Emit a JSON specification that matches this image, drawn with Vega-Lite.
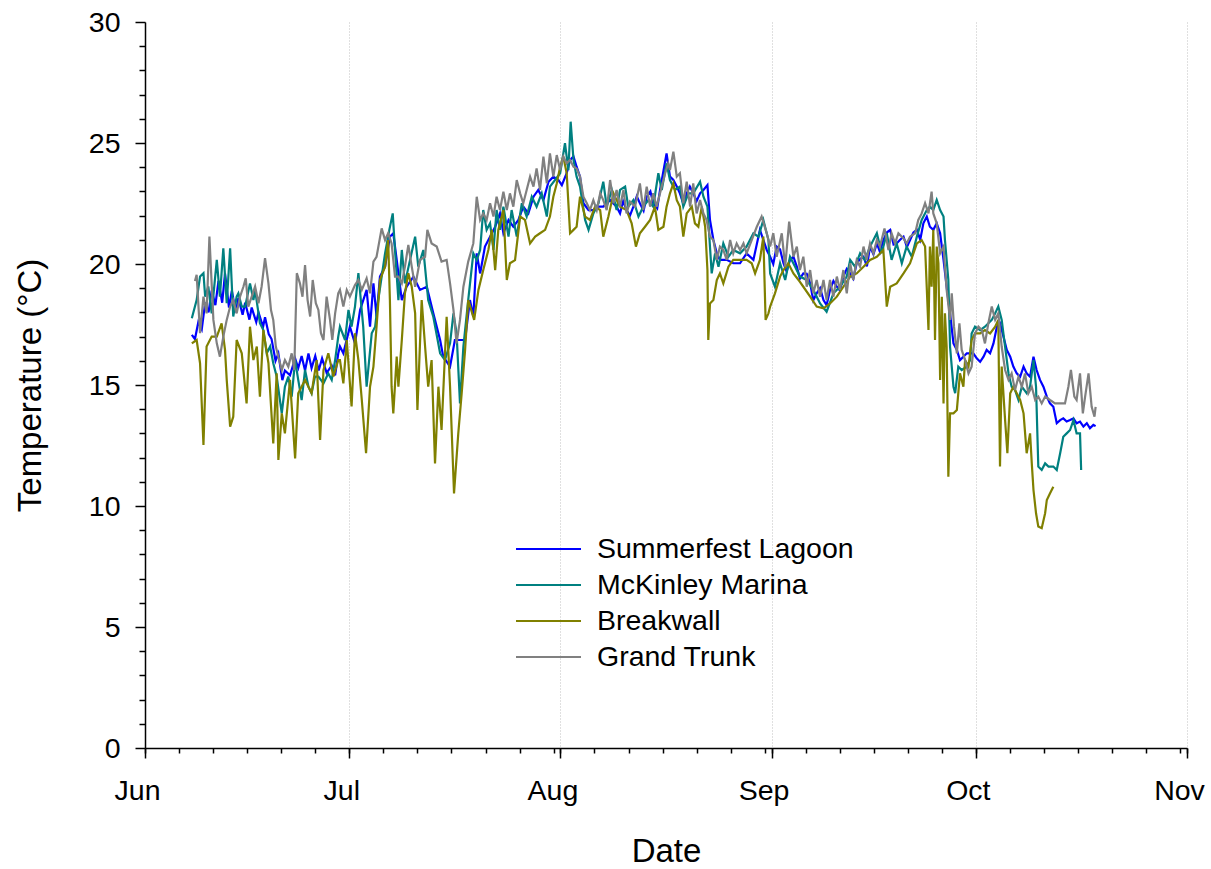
{
"$schema": "https://vega.github.io/schema/vega-lite/v6.json",
"width": 1042, "height": 726,
"autosize": {"type": "none"},
"padding": {"left": 145, "top": 22, "right": 24, "bottom": 121},
"background": "white",
"config": {"view": {"stroke": null}, "font": "Liberation Sans",
 "axis": {"labelColor": "black", "titleColor": "black", "tickColor": "black", "domainColor": "black", "labelFont": "Liberation Sans", "titleFont": "Liberation Sans", "titleFontWeight": "normal"},
 "legend": {"labelFont": "Liberation Sans"}},
"layer": [
{"data": {"format": {"parse": {"d": "date:'%j %H'"}}, "values": [
{"d":"158 21","t":17.07},{"d":"159 8","t":16.9},{"d":"159 20","t":17.6},{"d":"160 8","t":17.3},{"d":"160 20","t":18.4},{"d":"161 8","t":18.0},{"d":"161 19","t":18.9},{"d":"162 8","t":18.3},{"d":"162 19","t":19.3},{"d":"163 8","t":18.4},{"d":"163 18","t":19.6},{"d":"164 8","t":18.2},{"d":"164 18","t":18.9},{"d":"165 8","t":18.0},{"d":"165 17","t":18.6},{"d":"166 8","t":17.9},{"d":"166 17","t":18.4},{"d":"167 8","t":17.7},{"d":"167 16","t":18.2},{"d":"168 8","t":17.6},{"d":"168 16","t":18.0},{"d":"169 8","t":17.4},{"d":"169 15","t":17.8},{"d":"170 4","t":17.1},{"d":"170 14","t":16.9},{"d":"171 4","t":16.0},{"d":"171 14","t":16.3},{"d":"172 4","t":15.2},{"d":"172 13","t":15.6},{"d":"173 7","t":15.4},{"d":"174 1","t":16.1},{"d":"174 12","t":15.7},{"d":"175 0","t":16.2},{"d":"175 12","t":15.6},{"d":"176 0","t":16.3},{"d":"176 11","t":15.7},{"d":"177 0","t":16.2},{"d":"177 12","t":15.6},{"d":"178 0","t":16.1},{"d":"178 16","t":15.5},{"d":"179 10","t":15.8},{"d":"179 22","t":15.4},{"d":"180 9","t":16.3},
{"d":"180 15","t":16.59},{"d":"181 3","t":16.31},{"d":"182 2","t":17.41},{"d":"182 20","t":16.72},{"d":"183 14","t":18.1},{"d":"184 13","t":18.93},{"d":"185 1","t":17.41},{"d":"185 13","t":19.2},{"d":"186 0","t":17.82},{"d":"186 12","t":19.48},{"d":"187 6","t":19.89},{"d":"187 23","t":21.13},{"d":"188 11","t":21.27},{"d":"188 23","t":20.17},{"d":"189 17","t":18.51},{"d":"190 10","t":19.06},{"d":"191 10","t":19.48},{"d":"192 9","t":18.93},{"d":"193 9","t":19.06},{"d":"194 8","t":17.96},{"d":"195 8","t":16.86},{"d":"195 19","t":16.17},{"d":"196 19","t":15.76},{"d":"197 12","t":16.86},{"d":"198 6","t":16.86},{"d":"199 0","t":16.86},{"d":"199 17","t":18.51},
{"d":"200 5","t":17.82},{"d":"200 17","t":20.44},{"d":"201 5","t":19.61},{"d":"201 22","t":20.72},{"d":"202 16","t":21.13},{"d":"203 10","t":21.54},{"d":"204 3","t":22.09},{"d":"204 15","t":21.27},{"d":"205 9","t":21.82},{"d":"206 2","t":21.54},{"d":"206 20","t":21.82},{"d":"207 13","t":22.37},{"d":"208 7","t":22.09},{"d":"209 1","t":22.78},{"d":"209 18","t":23.06},{"d":"210 12","t":22.64},{"d":"211 6","t":23.4},{"d":"211 23","t":23.61},{"d":"212 17","t":23.47},{"d":"213 5","t":23.26},{"d":"213 22","t":23.75},{"d":"214 10","t":24.3},{"d":"214 22","t":24.44},{"d":"215 9","t":24.02},{"d":"215 21","t":23.61},{"d":"216 9","t":22.51},{"d":"217 3","t":22.23},{"d":"217 20","t":22.23},{"d":"218 14","t":22.37},{"d":"219 7","t":22.37},{"d":"220 7","t":22.64},{"d":"221 6","t":22.37},
{"d":"221 18","t":22.09},{"d":"222 5","t":22.6},{"d":"222 17","t":22.23},{"d":"223 5","t":22.0},{"d":"223 17","t":22.37},{"d":"224 5","t":22.8},{"d":"224 16","t":22.51},{"d":"225 5","t":22.2},{"d":"225 16","t":22.78},{"d":"226 5","t":23.0},{"d":"226 15","t":22.51},{"d":"227 5","t":22.3},{"d":"227 15","t":23.06},{"d":"228 14","t":24.57},{"d":"229 2","t":23.61},{"d":"229 14","t":23.47},{"d":"230 2","t":23.2},{"d":"230 13","t":22.92},{"d":"231 1","t":22.5},{"d":"231 13","t":22.92},{"d":"232 0","t":23.2},{"d":"232 12","t":22.92},{"d":"233 0","t":22.6},{"d":"233 12","t":22.92},{"d":"234 0","t":23.06},{"d":"234 14","t":23.26},{"d":"234 23","t":21.82},{"d":"235 11","t":20.99},{"d":"235 23","t":20.44},{"d":"236 10","t":20.17},{"d":"237 10","t":20.17},{"d":"238 9","t":20.03},{"d":"239 9","t":20.03},{"d":"240 8","t":20.44},{"d":"241 8","t":20.17},{"d":"242 7","t":21.41},{"d":"243 7","t":20.58},
{"d":"243 19","t":20.3},{"d":"244 6","t":20.0},{"d":"244 18","t":20.72},{"d":"245 6","t":20.6},{"d":"245 18","t":20.03},{"d":"246 5","t":19.7},{"d":"246 17","t":20.17},{"d":"247 5","t":20.3},{"d":"247 17","t":19.89},{"d":"248 4","t":19.4},{"d":"248 16","t":19.61},{"d":"249 4","t":19.6},{"d":"249 16","t":19.2},{"d":"250 3","t":18.5},{"d":"250 15","t":18.79},{"d":"251 3","t":19.0},{"d":"251 15","t":18.51},{"d":"252 2","t":18.3},{"d":"252 14","t":18.93},{"d":"253 2","t":19.3},{"d":"253 14","t":19.06},{"d":"254 1","t":18.9},{"d":"254 13","t":19.48},{"d":"255 1","t":19.8},{"d":"255 13","t":19.61},{"d":"256 0","t":19.4},{"d":"256 12","t":20.03},{"d":"257 0","t":20.2},{"d":"257 12","t":20.3},{"d":"258 0","t":19.9},{"d":"258 11","t":20.72},{"d":"258 23","t":20.4},{"d":"259 11","t":20.85},{"d":"259 22","t":20.5},{"d":"260 10","t":20.99},{"d":"260 22","t":21.3},{"d":"261 10","t":21.41},{"d":"261 22","t":20.8},{"d":"262 9","t":20.85},{"d":"262 21","t":21.0},{"d":"263 9","t":21.13},{"d":"263 21","t":20.7},{"d":"264 8","t":20.99},{"d":"264 20","t":21.3},{"d":"265 8","t":21.41},{"d":"265 20","t":21.0},{"d":"266 7","t":21.68},{"d":"266 19","t":21.96},
{"d":"267 6","t":21.54},{"d":"267 18","t":21.41},{"d":"268 6","t":21.68},{"d":"268 18","t":21.27},{"d":"269 6","t":20.17},{"d":"269 17","t":19.06},{"d":"270 5","t":17.96},{"d":"270 17","t":16.72},{"d":"271 5","t":16.45},{"d":"271 16","t":16.03},{"d":"272 4","t":16.17},{"d":"272 16","t":16.31},{"d":"273 4","t":16.31},{"d":"273 15","t":16.31},{"d":"274 3","t":16.1},{"d":"274 15","t":15.96},{"d":"275 3","t":16.17},{"d":"275 14","t":16.45},{"d":"276 2","t":16.31},{"d":"276 14","t":16.72},{"d":"277 2","t":17.41},{"d":"277 13","t":17.55},{"d":"278 1","t":17.0},{"d":"278 13","t":16.45},{"d":"279 1","t":16.17},{"d":"279 12","t":15.76},{"d":"280 0","t":15.48},{"d":"280 12","t":15.34},{"d":"281 0","t":15.76},{"d":"281 11","t":15.48},{"d":"281 23","t":15.34},{"d":"282 11","t":16.17},{"d":"282 22","t":15.62},{"d":"283 10","t":15.21},{"d":"283 22","t":14.93},{"d":"284 10","t":14.52},{"d":"284 21","t":14.24},{"d":"285 9","t":14.1},{"d":"285 21","t":13.42},{"d":"286 9","t":13.55},{"d":"286 20","t":13.62},{"d":"287 8","t":13.49},{"d":"287 20","t":13.55},{"d":"288 8","t":13.62},{"d":"288 19","t":13.42},{"d":"289 7","t":13.49},{"d":"289 19","t":13.28},{"d":"290 7","t":13.42},{"d":"290 18","t":13.21},{"d":"291 6","t":13.35},{"d":"291 14","t":13.3}
]},
 "mark": {"type": "line", "strokeWidth": 2.2},
 "encoding": {
  "x": {"field": "d", "type": "temporal", "scale": {"domain": [{"year": 1900, "month": "jun", "date": 1}, {"year": 1900, "month": "nov", "date": 1}]},
   "axis": {"orient": "bottom", "tickCount": {"interval": "month", "step": 1}, "format": "%b", "labelFontSize": 28.5, "labelPadding": 18, "labelOffset": -8, "labelFlush": false, "labelOverlap": false, "labelBound": false, "tickSize": 10, "tickWidth": 1.5, "domainWidth": 1.5, "grid": true, "gridDash": [1, 2], "gridColor": "#c0c0c0", "gridWidth": 1, "title": "Date", "titleFontSize": 33, "titlePadding": 31}},
  "y": {"field": "t", "type": "quantitative", "scale": {"domain": [0, 30]},
   "axis": {"orient": "left", "values": [0, 5, 10, 15, 20, 25, 30], "labelFontSize": 28.5, "labelPadding": 15, "tickSize": 10, "tickWidth": 1.5, "domainWidth": 1.5, "grid": false, "title": "Temperature (°C)", "titleFontSize": 33, "titlePadding": 41}},
  "color": {"datum": "Summerfest Lagoon", "type": "nominal",
   "scale": {"domain": ["Summerfest Lagoon", "McKinley Marina", "Breakwall", "Grand Trunk"], "range": ["#0000ff", "#008080", "#808000", "#808080"]},
   "legend": {"orient": "none", "legendX": 370, "legendY": 509, "title": null, "symbolType": "stroke", "symbolSize": 4225, "symbolStrokeWidth": 2, "labelFontSize": 28.5, "labelColor": "black", "labelOffset": 15, "clipHeight": 36, "rowPadding": 0, "padding": 0, "labelLimit": 0}}
 }},
{"data": {"format": {"parse": {"d": "date:'%j %H'"}}, "values": [
{"d":"158 21","t":17.76},{"d":"159 14","t":18.51},{"d":"160 2","t":19.48},{"d":"160 14","t":19.62},{"d":"160 20","t":18.65},{"d":"161 7","t":19.07},{"d":"161 19","t":17.96},{"d":"162 13","t":20.17},{"d":"163 0","t":18.65},{"d":"163 12","t":20.65},{"d":"164 0","t":18.38},{"d":"164 12","t":20.65},{"d":"164 23","t":17.83},{"d":"165 11","t":18.65},{"d":"165 17","t":18.79},{"d":"166 5","t":18.24},{"d":"166 17","t":18.24},{"d":"167 10","t":19.2},{"d":"167 22","t":18.51},{"d":"168 4","t":18.93},{"d":"168 21","t":17.55},{"d":"169 9","t":17.27},{"d":"169 21","t":16.31},{"d":"170 9","t":16.59},{"d":"170 20","t":15.9},{"d":"171 8","t":15.35},{"d":"172 2","t":13.83},{"d":"172 13","t":14.93},{"d":"173 1","t":15.35},{"d":"173 13","t":14.52},{"d":"174 1","t":16.03},{"d":"174 12","t":15.21},{"d":"175 0","t":14.38},{"d":"175 12","t":15.62},{"d":"176 0","t":14.93},{"d":"176 11","t":14.66},{"d":"176 23","t":15.35},{"d":"177 11","t":15.35},{"d":"178 5","t":15.07},{"d":"178 22","t":15.48},{"d":"179 10","t":15.21},{"d":"179 22","t":16.03},{"d":"180 9","t":17.0},
{"d":"180 15","t":17.41},{"d":"181 9","t":16.86},{"d":"181 21","t":18.1},{"d":"182 8","t":17.41},{"d":"182 20","t":18.24},{"d":"183 8","t":19.62},{"d":"184 1","t":17.41},{"d":"184 13","t":14.93},{"d":"185 7","t":17.14},{"d":"185 19","t":17.41},{"d":"186 6","t":18.51},{"d":"186 18","t":19.48},{"d":"187 6","t":20.44},{"d":"187 21","t":21.41},{"d":"188 9","t":22.09},{"d":"188 17","t":20.58},{"d":"189 5","t":18.51},{"d":"189 17","t":20.58},{"d":"190 4","t":19.2},{"d":"190 22","t":20.17},{"d":"191 16","t":21.13},{"d":"192 3","t":19.89},{"d":"192 21","t":20.58},{"d":"193 14","t":18.51},{"d":"194 8","t":17.82},{"d":"195 8","t":16.31},{"d":"196 1","t":16.03},{"d":"196 19","t":16.72},{"d":"197 7","t":17.96},{"d":"197 18","t":17.14},{"d":"198 6","t":14.24},{"d":"198 18","t":16.59},{"d":"199 11","t":18.51},
{"d":"200 5","t":20.44},{"d":"200 17","t":20.16},{"d":"201 5","t":20.58},{"d":"201 16","t":22.23},{"d":"202 4","t":21.41},{"d":"202 16","t":21.68},{"d":"203 4","t":20.58},{"d":"203 15","t":22.23},{"d":"204 3","t":21.41},{"d":"204 15","t":22.37},{"d":"205 9","t":21.13},{"d":"205 20","t":22.23},{"d":"206 14","t":21.13},{"d":"207 8","t":22.51},{"d":"208 1","t":21.96},{"d":"208 19","t":22.78},{"d":"209 12","t":22.37},{"d":"210 6","t":22.92},{"d":"211 0","t":21.96},{"d":"211 11","t":23.2},{"d":"212 5","t":23.47},{"d":"212 23","t":23.75},{"d":"213 16","t":24.99},{"d":"214 4","t":23.88},{"d":"214 12","t":25.88},{"d":"214 22","t":24.3},{"d":"215 9","t":23.61},{"d":"215 21","t":23.2},{"d":"216 15","t":21.82},{"d":"217 3","t":21.41},{"d":"217 20","t":22.09},{"d":"218 14","t":22.51},{"d":"219 7","t":23.4},{"d":"219 19","t":22.37},{"d":"220 13","t":23.06},{"d":"221 6","t":22.23},
{"d":"221 18","t":23.06},{"d":"222 12","t":23.2},{"d":"222 23","t":22.37},{"d":"223 17","t":22.64},{"d":"224 11","t":21.96},{"d":"225 4","t":22.37},{"d":"225 22","t":22.64},{"d":"226 15","t":22.37},{"d":"227 9","t":23.75},{"d":"227 21","t":23.06},{"d":"228 14","t":24.16},{"d":"229 2","t":23.47},{"d":"229 20","t":23.06},{"d":"230 13","t":23.2},{"d":"231 1","t":22.37},{"d":"231 19","t":22.92},{"d":"232 12","t":22.92},{"d":"233 12","t":23.4},{"d":"234 0","t":22.78},{"d":"234 14","t":22.37},{"d":"235 5","t":19.61},{"d":"235 17","t":20.44},{"d":"236 5","t":19.89},{"d":"236 22","t":20.85},{"d":"237 16","t":20.3},{"d":"238 9","t":20.58},{"d":"239 9","t":20.44},{"d":"240 8","t":20.72},{"d":"241 8","t":21.27},{"d":"242 2","t":21.13},{"d":"242 19","t":21.82},{"d":"243 13","t":20.99},
{"d":"243 19","t":19.61},{"d":"244 12","t":19.06},{"d":"245 6","t":20.03},{"d":"246 0","t":19.34},{"d":"246 17","t":20.3},{"d":"247 11","t":19.89},{"d":"248 4","t":19.48},{"d":"249 4","t":19.34},{"d":"250 3","t":18.93},{"d":"251 3","t":18.37},{"d":"252 2","t":18.03},{"d":"253 2","t":18.79},{"d":"254 1","t":19.06},{"d":"255 1","t":19.48},{"d":"255 13","t":20.17},{"d":"256 6","t":19.89},{"d":"257 0","t":20.44},{"d":"257 17","t":20.17},{"d":"258 11","t":20.72},{"d":"259 11","t":21.27},{"d":"260 4","t":20.44},{"d":"260 22","t":21.27},{"d":"261 15","t":20.17},{"d":"262 9","t":20.85},{"d":"263 3","t":20.03},{"d":"263 20","t":20.72},{"d":"264 14","t":20.3},{"d":"265 8","t":21.13},{"d":"266 1","t":21.82},{"d":"266 19","t":22.23},
{"d":"267 6","t":22.37},{"d":"267 18","t":22.23},{"d":"268 6","t":22.65},{"d":"268 18","t":22.23},{"d":"269 6","t":21.96},{"d":"269 11","t":20.99},{"d":"269 23","t":19.34},{"d":"270 5","t":16.58},{"d":"270 17","t":14.93},{"d":"270 23","t":14.66},{"d":"271 10","t":15.76},{"d":"271 22","t":15.62},{"d":"272 16","t":15.76},{"d":"273 4","t":16.03},{"d":"273 9","t":17.13},{"d":"273 21","t":17.41},{"d":"274 15","t":17.27},{"d":"275 8","t":17.41},{"d":"275 20","t":17.55},{"d":"276 8","t":17.69},{"d":"276 20","t":17.96},{"d":"277 7","t":18.24},{"d":"277 19","t":17.69},{"d":"278 7","t":16.58},{"d":"278 19","t":15.48},{"d":"279 6","t":14.93},{"d":"279 18","t":14.79},{"d":"280 6","t":14.38},{"d":"280 18","t":14.93},{"d":"281 11","t":14.66},{"d":"281 23","t":14.93},{"d":"282 11","t":16.03},{"d":"282 20","t":14.93},{"d":"283 4","t":11.63},{"d":"283 16","t":11.49},{"d":"284 4","t":11.76},{"d":"284 16","t":11.63},{"d":"285 9","t":11.63},{"d":"285 21","t":11.49},{"d":"286 9","t":12.18},{"d":"286 20","t":12.86},{"d":"287 8","t":13.0},{"d":"287 20","t":13.14},{"d":"288 8","t":13.55},{"d":"288 19","t":13.0},{"d":"289 7","t":13.0},{"d":"289 11","t":11.49}
]},
 "mark": {"type": "line", "strokeWidth": 2.2},
 "encoding": {
  "x": {"field": "d", "type": "temporal", "scale": {"domain": [{"year": 1900, "month": "jun", "date": 1}, {"year": 1900, "month": "nov", "date": 1}]},
   "axis": {"orient": "bottom", "tickCount": {"interval": "day", "step": 5}, "labels": false, "domain": false, "grid": false, "tickSize": 5, "tickWidth": 1.5, "title": null}},
  "y": {"field": "t", "type": "quantitative", "scale": {"domain": [0, 30]},
   "axis": {"orient": "left", "values": [1, 2, 3, 4, 6, 7, 8, 9, 11, 12, 13, 14, 16, 17, 18, 19, 21, 22, 23, 24, 26, 27, 28, 29], "labels": false, "domain": false, "grid": false, "tickSize": 6, "tickWidth": 1.5, "title": null}},
  "color": {"datum": "McKinley Marina", "type": "nominal"}
 }},
{"data": {"format": {"parse": {"d": "date:'%j %H'"}}, "values": [
{"d":"158 21","t":16.72},{"d":"159 14","t":16.86},{"d":"160 2","t":15.9},{"d":"160 14","t":12.52},{"d":"161 1","t":16.59},{"d":"161 19","t":17.0},{"d":"162 13","t":17.0},{"d":"163 6","t":17.55},{"d":"163 18","t":16.45},{"d":"164 0","t":15.21},{"d":"164 12","t":13.28},{"d":"164 23","t":13.69},{"d":"165 11","t":16.86},{"d":"166 5","t":16.31},{"d":"166 22","t":14.24},{"d":"167 10","t":17.41},{"d":"167 22","t":16.03},{"d":"168 10","t":16.59},{"d":"168 21","t":14.52},{"d":"169 9","t":17.27},{"d":"170 3","t":15.9},{"d":"170 20","t":12.59},{"d":"171 8","t":15.48},{"d":"171 14","t":11.9},{"d":"172 2","t":13.83},{"d":"172 13","t":13.0},{"d":"173 7","t":15.21},{"d":"174 1","t":11.97},{"d":"174 12","t":14.66},{"d":"175 12","t":15.21},{"d":"176 11","t":14.66},{"d":"177 5","t":16.03},{"d":"177 17","t":12.73},{"d":"178 5","t":15.62},{"d":"178 22","t":16.31},{"d":"179 16","t":15.35},{"d":"180 9","t":16.03},
{"d":"180 15","t":16.03},{"d":"181 3","t":15.07},{"d":"181 15","t":16.86},{"d":"182 8","t":14.11},{"d":"182 20","t":17.14},{"d":"183 8","t":16.03},{"d":"183 20","t":14.38},{"d":"184 11","t":12.18},{"d":"185 1","t":14.93},{"d":"185 13","t":15.76},{"d":"186 0","t":17.41},{"d":"186 12","t":19.34},{"d":"187 6","t":19.89},{"d":"187 17","t":20.99},{"d":"187 23","t":18.51},{"d":"188 5","t":14.93},{"d":"188 11","t":13.83},{"d":"188 23","t":16.17},{"d":"189 5","t":14.93},{"d":"189 17","t":16.86},{"d":"190 4","t":18.79},{"d":"190 16","t":19.62},{"d":"191 4","t":19.06},{"d":"191 16","t":17.96},{"d":"192 0","t":13.97},{"d":"192 15","t":18.51},{"d":"193 3","t":16.59},{"d":"193 14","t":14.93},{"d":"194 2","t":16.03},{"d":"194 14","t":11.76},{"d":"195 2","t":14.93},{"d":"195 13","t":13.14},{"d":"196 7","t":17.82},{"d":"196 19","t":14.93},{"d":"197 9","t":10.52},{"d":"198 0","t":13.0},{"d":"198 12","t":14.66},{"d":"199 0","t":16.45},{"d":"199 11","t":18.51},
{"d":"200 8","t":17.69},{"d":"200 23","t":18.93},{"d":"201 16","t":19.75},{"d":"202 10","t":20.58},{"d":"202 22","t":21.41},{"d":"203 10","t":19.75},{"d":"203 21","t":21.41},{"d":"204 15","t":22.23},{"d":"205 3","t":19.34},{"d":"205 14","t":20.03},{"d":"206 8","t":20.16},{"d":"207 2","t":21.96},{"d":"207 19","t":21.82},{"d":"208 13","t":20.85},{"d":"209 7","t":21.13},{"d":"210 0","t":21.27},{"d":"210 18","t":21.41},{"d":"211 11","t":21.96},{"d":"211 23","t":22.78},{"d":"212 11","t":23.33},{"d":"212 23","t":24.02},{"d":"213 10","t":24.44},{"d":"213 22","t":23.75},{"d":"214 10","t":21.27},{"d":"214 22","t":21.41},{"d":"215 9","t":21.54},{"d":"215 21","t":22.78},{"d":"216 15","t":21.96},{"d":"217 8","t":21.82},{"d":"218 2","t":22.37},{"d":"218 20","t":22.23},{"d":"219 7","t":21.13},{"d":"220 1","t":21.96},{"d":"220 19","t":22.92},{"d":"221 6","t":22.64},
{"d":"221 18","t":22.37},{"d":"222 17","t":22.23},{"d":"223 11","t":21.68},{"d":"224 2","t":20.72},{"d":"224 16","t":21.27},{"d":"225 10","t":21.54},{"d":"226 4","t":21.82},{"d":"226 21","t":22.37},{"d":"227 9","t":21.41},{"d":"228 3","t":21.54},{"d":"228 14","t":22.37},{"d":"229 2","t":22.92},{"d":"229 14","t":23.33},{"d":"230 2","t":22.64},{"d":"230 13","t":22.37},{"d":"231 1","t":21.13},{"d":"231 13","t":22.09},{"d":"232 7","t":22.37},{"d":"232 18","t":21.68},{"d":"233 6","t":21.54},{"d":"233 18","t":22.37},{"d":"234 6","t":21.54},{"d":"234 14","t":19.75},{"d":"234 17","t":16.86},{"d":"234 23","t":18.37},{"d":"235 11","t":18.51},{"d":"235 23","t":19.34},{"d":"236 10","t":19.61},{"d":"236 22","t":19.2},{"d":"237 16","t":19.89},{"d":"238 9","t":20.17},{"d":"239 9","t":20.17},{"d":"240 8","t":20.17},{"d":"241 2","t":20.03},{"d":"241 14","t":19.61},{"d":"242 7","t":20.17},{"d":"242 19","t":21.13},{"d":"243 3","t":17.69},{"d":"243 13","t":17.96},
{"d":"243 19","t":18.24},{"d":"244 12","t":18.79},{"d":"245 6","t":19.48},{"d":"245 18","t":19.75},{"d":"246 11","t":20.03},{"d":"247 5","t":19.61},{"d":"247 23","t":19.34},{"d":"248 16","t":19.06},{"d":"249 16","t":18.65},{"d":"250 15","t":18.24},{"d":"251 15","t":18.17},{"d":"252 14","t":18.37},{"d":"253 14","t":18.65},{"d":"254 13","t":19.06},{"d":"255 13","t":19.48},{"d":"256 12","t":19.61},{"d":"257 12","t":19.89},{"d":"258 11","t":20.17},{"d":"259 11","t":20.3},{"d":"260 10","t":20.58},{"d":"260 22","t":18.24},{"d":"261 10","t":19.06},{"d":"262 9","t":19.2},{"d":"263 9","t":19.61},{"d":"264 8","t":20.03},{"d":"265 8","t":20.85},{"d":"266 1","t":20.99},{"d":"266 13","t":20.72},{"d":"267 1","t":17.27},
{"d":"267 6","t":20.72},{"d":"267 12","t":19.06},{"d":"267 18","t":21.41},{"d":"268 0","t":16.86},{"d":"268 6","t":20.72},{"d":"268 12","t":20.03},{"d":"268 18","t":15.21},{"d":"269 0","t":18.65},{"d":"269 6","t":14.24},{"d":"269 11","t":17.96},{"d":"269 17","t":16.58},{"d":"269 23","t":11.21},{"d":"270 5","t":13.83},{"d":"270 17","t":13.83},{"d":"271 5","t":13.97},{"d":"271 16","t":15.48},{"d":"272 4","t":14.93},{"d":"272 10","t":16.03},{"d":"272 22","t":15.76},{"d":"273 9","t":16.86},{"d":"273 21","t":17.13},{"d":"274 15","t":17.13},{"d":"275 8","t":17.27},{"d":"276 2","t":17.13},{"d":"276 20","t":17.41},{"d":"277 7","t":17.69},{"d":"277 13","t":11.63},{"d":"277 19","t":15.76},{"d":"278 7","t":13.55},{"d":"278 15","t":12.18},{"d":"279 1","t":14.66},{"d":"279 12","t":14.93},{"d":"280 0","t":14.66},{"d":"280 12","t":14.38},{"d":"281 0","t":13.83},{"d":"281 11","t":12.18},{"d":"281 23","t":13.0},{"d":"282 5","t":11.76},{"d":"282 11","t":10.66},{"d":"282 20","t":9.7},{"d":"283 4","t":9.15},{"d":"283 16","t":9.08},{"d":"284 4","t":9.7},{"d":"284 10","t":10.25},{"d":"284 21","t":10.52},{"d":"285 9","t":10.8}
]},
 "mark": {"type": "line", "strokeWidth": 2.2},
 "encoding": {
  "x": {"field": "d", "type": "temporal", "scale": {"domain": [{"year": 1900, "month": "jun", "date": 1}, {"year": 1900, "month": "nov", "date": 1}]}, "axis": null},
  "y": {"field": "t", "type": "quantitative", "scale": {"domain": [0, 30]}, "axis": null},
  "color": {"datum": "Breakwall", "type": "nominal"}
 }},
{"data": {"format": {"parse": {"d": "date:'%j %H'"}}, "values": [
{"d":"159 8","t":19.3},{"d":"159 14","t":19.55},{"d":"160 2","t":17.14},{"d":"160 14","t":18.65},{"d":"161 1","t":17.96},{"d":"161 11","t":21.13},{"d":"162 1","t":17.69},{"d":"162 13","t":16.72},{"d":"163 0","t":16.17},{"d":"163 12","t":17.0},{"d":"164 0","t":17.69},{"d":"164 12","t":18.24},{"d":"164 23","t":18.51},{"d":"165 11","t":17.96},{"d":"165 23","t":18.65},{"d":"166 11","t":19.07},{"d":"166 19","t":19.41},{"d":"167 4","t":18.24},{"d":"167 16","t":18.65},{"d":"168 4","t":19.07},{"d":"168 16","t":18.38},{"d":"169 3","t":19.07},{"d":"169 15","t":20.24},{"d":"170 3","t":19.2},{"d":"170 12","t":18.1},{"d":"170 20","t":17.69},{"d":"171 5","t":16.59},{"d":"171 14","t":16.17},{"d":"172 2","t":15.62},{"d":"172 13","t":16.03},{"d":"173 1","t":15.76},{"d":"173 13","t":16.31},{"d":"173 22","t":15.62},{"d":"174 7","t":19.62},{"d":"174 18","t":19.2},{"d":"175 3","t":18.65},{"d":"175 12","t":19.96},{"d":"175 21","t":18.51},{"d":"176 6","t":17.83},{"d":"176 15","t":19.34},{"d":"177 2","t":18.38},{"d":"177 11","t":18.1},{"d":"177 20","t":17.14},{"d":"178 5","t":16.86},{"d":"178 16","t":18.65},{"d":"179 4","t":17.69},{"d":"179 12","t":16.86},{"d":"179 22","t":17.96},{"d":"180 9","t":18.79},
{"d":"180 15","t":18.93},{"d":"181 3","t":18.24},{"d":"181 15","t":18.93},{"d":"182 2","t":18.65},{"d":"182 20","t":19.13},{"d":"183 8","t":19.34},{"d":"183 20","t":18.93},{"d":"184 13","t":19.41},{"d":"185 1","t":18.79},{"d":"185 13","t":20.1},{"d":"186 0","t":20.3},{"d":"186 18","t":21.47},{"d":"187 6","t":20.99},{"d":"187 17","t":21.27},{"d":"188 5","t":20.85},{"d":"188 17","t":19.48},{"d":"189 5","t":19.48},{"d":"189 17","t":19.2},{"d":"190 4","t":19.89},{"d":"190 16","t":20.79},{"d":"191 4","t":19.89},{"d":"191 16","t":19.06},{"d":"192 9","t":20.17},{"d":"193 3","t":20.3},{"d":"193 11","t":21.41},{"d":"194 2","t":20.85},{"d":"194 20","t":20.72},{"d":"195 13","t":20.1},{"d":"196 7","t":20.17},{"d":"196 19","t":19.2},{"d":"197 7","t":18.1},{"d":"197 18","t":16.72},{"d":"198 6","t":17.69},{"d":"198 18","t":19.06},{"d":"199 11","t":20.1},
{"d":"200 5","t":20.85},{"d":"200 17","t":22.78},{"d":"201 5","t":21.82},{"d":"201 16","t":22.09},{"d":"202 4","t":21.82},{"d":"202 16","t":22.51},{"d":"203 4","t":21.96},{"d":"203 15","t":22.78},{"d":"204 3","t":22.23},{"d":"204 15","t":22.99},{"d":"205 3","t":22.23},{"d":"205 14","t":22.92},{"d":"206 2","t":22.37},{"d":"206 14","t":23.47},{"d":"207 2","t":22.92},{"d":"207 13","t":22.51},{"d":"208 1","t":23.06},{"d":"208 13","t":23.61},{"d":"209 1","t":23.2},{"d":"209 12","t":23.95},{"d":"210 0","t":23.06},{"d":"210 12","t":24.44},{"d":"211 0","t":23.33},{"d":"211 11","t":24.57},{"d":"211 23","t":23.61},{"d":"212 11","t":24.5},{"d":"212 23","t":23.88},{"d":"213 10","t":24.44},{"d":"213 22","t":24.16},{"d":"214 10","t":24.3},{"d":"214 22","t":24.02},{"d":"215 9","t":23.95},{"d":"215 21","t":23.61},{"d":"216 9","t":22.78},{"d":"216 21","t":22.51},{"d":"217 8","t":22.23},{"d":"217 20","t":22.64},{"d":"218 8","t":22.23},{"d":"218 20","t":22.92},{"d":"219 7","t":22.64},{"d":"219 19","t":22.23},{"d":"220 7","t":23.47},{"d":"220 19","t":22.51},{"d":"221 6","t":23.06},
{"d":"221 18","t":22.37},{"d":"222 6","t":23.06},{"d":"222 17","t":22.09},{"d":"223 5","t":22.58},{"d":"223 23","t":22.37},{"d":"224 16","t":23.33},{"d":"225 4","t":22.23},{"d":"225 16","t":23.2},{"d":"226 4","t":22.37},{"d":"226 15","t":22.92},{"d":"227 3","t":22.37},{"d":"227 21","t":23.2},{"d":"228 9","t":23.75},{"d":"228 20","t":24.16},{"d":"229 2","t":23.88},{"d":"229 14","t":24.64},{"d":"230 2","t":23.61},{"d":"230 13","t":23.75},{"d":"231 1","t":22.51},{"d":"231 13","t":23.4},{"d":"232 1","t":22.37},{"d":"232 12","t":23.33},{"d":"233 0","t":22.09},{"d":"233 12","t":22.64},{"d":"234 0","t":22.09},{"d":"234 11","t":21.82},{"d":"234 23","t":21.13},{"d":"235 11","t":20.99},{"d":"235 23","t":20.17},{"d":"236 10","t":20.72},{"d":"236 22","t":20.58},{"d":"237 10","t":20.17},{"d":"237 22","t":20.99},{"d":"238 9","t":20.44},{"d":"238 21","t":20.85},{"d":"239 9","t":20.58},{"d":"239 21","t":20.85},{"d":"240 8","t":20.44},{"d":"241 2","t":20.99},{"d":"241 20","t":21.54},{"d":"242 13","t":21.96},{"d":"243 7","t":21.27},
{"d":"243 19","t":20.72},{"d":"244 6","t":21.27},{"d":"244 18","t":20.3},{"d":"245 12","t":21.27},{"d":"246 0","t":19.89},{"d":"246 14","t":21.75},{"d":"247 5","t":20.3},{"d":"247 17","t":20.72},{"d":"248 4","t":19.75},{"d":"248 16","t":20.3},{"d":"249 4","t":19.06},{"d":"249 16","t":19.75},{"d":"250 3","t":18.79},{"d":"250 15","t":19.34},{"d":"251 3","t":18.65},{"d":"251 15","t":19.34},{"d":"252 2","t":18.51},{"d":"252 14","t":19.34},{"d":"253 2","t":18.65},{"d":"253 14","t":19.48},{"d":"254 1","t":18.93},{"d":"254 13","t":19.75},{"d":"255 1","t":18.79},{"d":"255 13","t":20.03},{"d":"256 0","t":19.34},{"d":"256 12","t":20.17},{"d":"257 0","t":19.89},{"d":"257 12","t":20.72},{"d":"257 23","t":20.17},{"d":"258 11","t":20.85},{"d":"258 23","t":20.44},{"d":"259 11","t":20.99},{"d":"259 22","t":20.72},{"d":"260 14","t":21.47},{"d":"261 4","t":20.58},{"d":"261 15","t":21.27},{"d":"262 3","t":20.85},{"d":"262 15","t":21.27},{"d":"263 9","t":21.06},{"d":"263 20","t":20.85},{"d":"264 8","t":21.13},{"d":"265 2","t":21.27},{"d":"265 13","t":21.82},{"d":"266 1","t":22.09},{"d":"266 13","t":22.51},{"d":"267 1","t":22.09},{"d":"267 12","t":22.99},
{"d":"267 18","t":22.09},{"d":"268 6","t":21.68},{"d":"268 18","t":20.44},{"d":"269 6","t":20.72},{"d":"269 17","t":18.93},{"d":"270 5","t":17.69},{"d":"270 11","t":18.79},{"d":"270 19","t":17.41},{"d":"271 5","t":16.31},{"d":"271 14","t":17.55},{"d":"271 22","t":16.45},{"d":"272 10","t":16.03},{"d":"272 22","t":15.48},{"d":"273 9","t":15.76},{"d":"273 21","t":17.13},{"d":"274 9","t":17.41},{"d":"274 21","t":17.27},{"d":"275 8","t":16.72},{"d":"275 20","t":17.55},{"d":"276 8","t":18.24},{"d":"276 20","t":17.69},{"d":"277 7","t":17.96},{"d":"277 19","t":16.58},{"d":"278 7","t":15.62},{"d":"278 19","t":15.21},{"d":"279 6","t":15.48},{"d":"279 18","t":14.79},{"d":"280 6","t":15.34},{"d":"280 18","t":14.93},{"d":"281 5","t":15.48},{"d":"281 17","t":14.66},{"d":"282 5","t":14.93},{"d":"282 17","t":14.38},{"d":"283 4","t":14.52},{"d":"283 16","t":14.24},{"d":"284 4","t":14.52},{"d":"284 21","t":14.38},{"d":"285 15","t":14.24},{"d":"286 9","t":14.24},{"d":"287 2","t":14.24},{"d":"287 14","t":14.93},{"d":"287 23","t":15.62},{"d":"288 11","t":14.52},{"d":"288 19","t":14.38},{"d":"289 7","t":15.48},{"d":"289 17","t":13.83},{"d":"290 1","t":14.52},{"d":"290 13","t":15.48},{"d":"291 0","t":14.1},{"d":"291 10","t":13.69},{"d":"291 14","t":14.1}
]},
 "mark": {"type": "line", "strokeWidth": 2.2},
 "encoding": {
  "x": {"field": "d", "type": "temporal", "scale": {"domain": [{"year": 1900, "month": "jun", "date": 1}, {"year": 1900, "month": "nov", "date": 1}]}, "axis": null},
  "y": {"field": "t", "type": "quantitative", "scale": {"domain": [0, 30]}, "axis": null},
  "color": {"datum": "Grand Trunk", "type": "nominal"}
 }}
],
"resolve": {"axis": {"x": "independent", "y": "independent"}}
}
